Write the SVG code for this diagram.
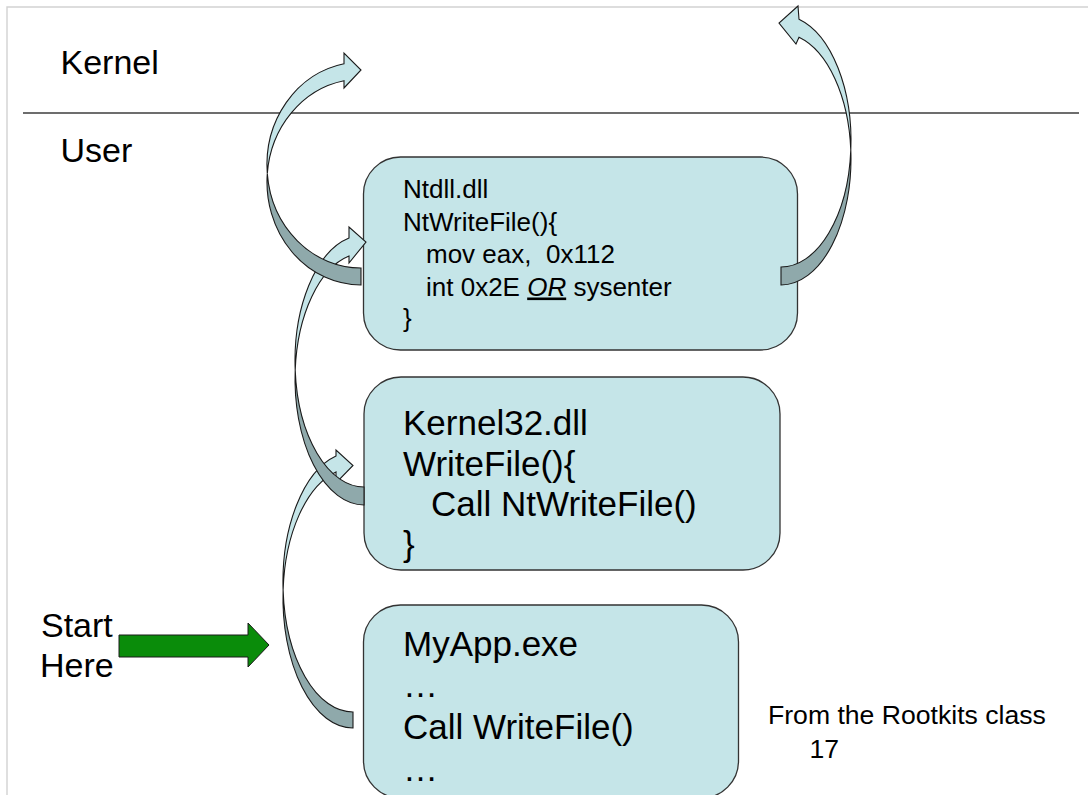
<svg xmlns="http://www.w3.org/2000/svg" width="1088" height="795" viewBox="0 0 1088 795">
  <style>
    text { font-family: "Liberation Sans", Arial, sans-serif; fill: #000; }
    .lbl { font-size: 34px; }
    .big { font-size: 35px; }
    .small { font-size: 26px; }
    .note { font-size: 26.6px; }
    .box { fill: #c5e5e8; stroke: #333; stroke-width: 1.3; }
    .face { fill: #c5e5e8; stroke: #1a1a1a; stroke-width: 1.1; stroke-linejoin: miter; }
    .back { fill: #8fa9ab; stroke: #1a1a1a; stroke-width: 1.1; }
    .go { fill: #0a8c0a; stroke: #1a1a1a; stroke-width: 1; }
  </style>

  <!-- page -->
  <rect x="0" y="0" width="1088" height="795" fill="#fff"/>
  <path d="M7,795 V7 H1088" fill="none" stroke="#d2d2d2" stroke-width="1.4"/>

  <!-- privilege boundary -->
  <line x1="23" y1="113" x2="1079" y2="113" stroke="#3c3c3c" stroke-width="1.6"/>
  <text class="lbl" x="60.5" y="74">Kernel</text>
  <text class="lbl" x="60.5" y="162">User</text>
  <text class="lbl" x="41" y="637">Start</text>
  <text class="lbl" x="40" y="677">Here</text>

  <!-- modules -->
  <g id="node-ntdll">
    <rect class="box" x="363.5" y="157" width="434" height="193" rx="37" ry="37"/>
    <text class="small" xml:space="preserve"><tspan x="403" y="198">Ntdll.dll</tspan><tspan x="403" y="230.5">NtWriteFile(){</tspan><tspan x="426" y="263">mov eax,  0x112</tspan><tspan x="426" y="295.5">int 0x2E <tspan font-style="italic" text-decoration="underline">OR</tspan> sysenter</tspan><tspan x="403" y="327">}</tspan></text>
  </g>

  <g id="node-kernel32">
    <rect class="box" x="364" y="377" width="416" height="193" rx="37" ry="37"/>
    <text class="big"><tspan x="403" y="435">Kernel32.dll</tspan><tspan x="403" y="476">WriteFile(){</tspan><tspan x="431" y="516">Call NtWriteFile()</tspan><tspan x="403" y="556">}</tspan></text>
  </g>

  <g id="node-myapp">
    <rect class="box" x="363.5" y="605" width="375" height="193" rx="37" ry="37"/>
    <text class="big"><tspan x="403" y="656">MyApp.exe</tspan><tspan x="403" y="697">…</tspan><tspan x="403" y="739">Call WriteFile()</tspan><tspan x="403" y="781">…</tspan></text>
  </g>

  <g id="caption">
    <text class="note" x="768" y="724">From the Rootkits class</text>
    <text class="note" x="809.5" y="758" font-size="24">17</text>
  </g>

  <!-- call flow: twisted ribbon arrows, back face darker -->
  <g id="connectors">
    <g id="call-writefile">
      <path class="face" d="M283.1,590 A70,130 0 0,1 336,455.9 L336,450 L353,465.5 L336,483 L336,471.9 A70,130 0 0,0 283.1,590 Z"/>
      <path class="back" d="M283.1,590 A70,130 0 0,0 353,728 L353,712 A70,130 0 0,1 283.1,590 Z"/>
    </g>
    <g id="call-ntwritefile">
      <path class="face" d="M295.2,370 A69,126 0 0,1 349,238 L349,227 L366,242 L349,263 L349,256 A69,126 0 0,0 295.2,370 Z"/>
      <path class="back" d="M295.2,370 A69,126 0 0,0 364,505 L364,487 A69,126 0 0,1 295.2,370 Z"/>
    </g>
    <g id="int-2e">
      <path class="face" d="M267.3,173.5 A94,103 0 0,1 344,63.7 L344,53 L361,70 L344,88 L344,80.7 A94,103 0 0,0 267.3,173.5 Z"/>
      <path class="back" d="M267.3,173.5 A94,103 0 0,0 361,285 L361,268 A94,103 0 0,1 267.3,173.5 Z"/>
    </g>
    <g id="sysenter">
      <path class="face" d="M850.8,150 A70,126 0 0,0 799,19.2 L798,6 L779,23 L796,44 L799,37.2 A70,126 0 0,1 850.8,150 Z"/>
      <path class="back" d="M850.8,150 A70,126 0 0,1 781,285 L781,267 A70,126 0 0,0 850.8,150 Z"/>
    </g>
    <path id="start-here" class="go" d="M119,635 H248 V623 L269,645 L248,667 V657 H119 Z"/>
  </g>
</svg>
